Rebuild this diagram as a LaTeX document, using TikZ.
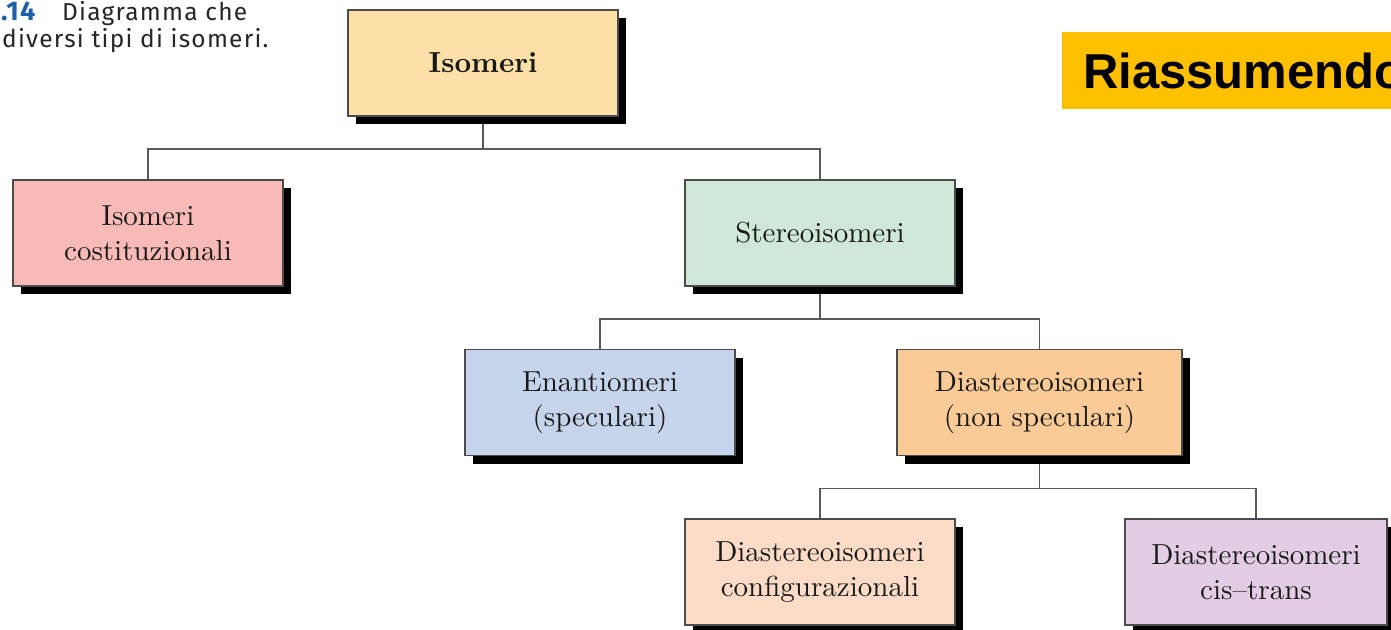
\documentclass[tikz,border=0pt]{standalone}
\usepackage{fontspec}
\newfontfamily\capfont{Fira Sans}[LetterSpace=5]
\newfontfamily\headfont{Liberation Sans}
\newfontfamily\boxfont{lmroman10}[Extension=.otf,UprightFont=*-regular,BoldFont=*-bold,Ligatures=TeX]
\usetikzlibrary{positioning,shadows,backgrounds}

\definecolor{isoC}{HTML}{FCE0A8}
\definecolor{costC}{HTML}{F7BAB6}
\definecolor{stereoC}{HTML}{CFE8D9}
\definecolor{enantC}{HTML}{C6D5EC}
\definecolor{diastC}{HTML}{FBCB97}
\definecolor{configC}{HTML}{FCDCC7}
\definecolor{cisC}{HTML}{E2CDE4}
\definecolor{riasC}{HTML}{FFC000}
\definecolor{capblue}{HTML}{1F5FA8}
\newcommand\boxtext{\boxfont\fontsize{29}{35}\selectfont}

\begin{document}
\begin{tikzpicture}[x=1pt,y=-1pt,
  box/.style={draw=black!70,line width=1.6pt,minimum width=270pt,minimum height=106pt,
    inner sep=0pt,align=center,text=black!90,font=\boxtext,
    drop shadow={shadow xshift=8pt,shadow yshift=-8pt,fill=black,opacity=1}},
  link/.style={draw=black!65,line width=1.6pt},
  captext/.style={anchor=base west,inner sep=0pt,text=black!85,font=\capfont\fontsize{24.5}{30}\selectfont}]

\useasboundingbox (0,0) rectangle (1391,629);

% Caption in the top left corner
\node[captext] (cap1) at (1,20)
  {\makebox[61pt][l]{\textcolor{capblue}{\bfseries\fontsize{27}{30}\selectfont .14}}Diagramma che};
\node[captext] (cap2) at (2,47) {diversi tipi di isomeri.};

% Yellow title
\node[fill=riasC,anchor=west,minimum height=77pt,inner xsep=21pt,inner ysep=0pt,
      font=\headfont\bfseries\fontsize{49}{55}\selectfont] (rias) at (1062,70.5) {Riassumendo};

% The tree of isomers
\node[box,fill=isoC,font=\boxtext\bfseries] (iso) at (483,63) {Isomeri};
\node[box,fill=costC] (cost) at (148,233) {Isomeri\\costituzionali};
\node[box,fill=stereoC] (stereo) at (820,233) {Stereoisomeri};
\node[box,fill=enantC] (enant) at (600,402.5) {Enantiomeri\\(speculari)};
\node[box,fill=diastC,minimum width=285pt] (diast) at (1039.5,402.5) {Diastereoisomeri\\(non speculari)};
\node[box,fill=configC] (config) at (820,572) {Diastereoisomeri\\configurazionali};
\node[box,fill=cisC,minimum width=262pt] (cis) at (1256,572) {Diastereoisomeri\\cis--trans};

% Connectors behind the boxes
\begin{scope}[on background layer]
  \draw[link] (iso.south) -- ++(0,32) coordinate (t1);
  \draw[link] (cost.north) |- (t1) -| (stereo.north);
  \draw[link] (stereo.south) -- ++(0,32) coordinate (t2);
  \draw[link] (enant.north) |- (t2) -| (diast.north);
  \draw[link] (diast.south) -- ++(0,32) coordinate (t3);
  \draw[link] (config.north) |- (t3) -| (cis.north);
\end{scope}

\end{tikzpicture}
\end{document}
